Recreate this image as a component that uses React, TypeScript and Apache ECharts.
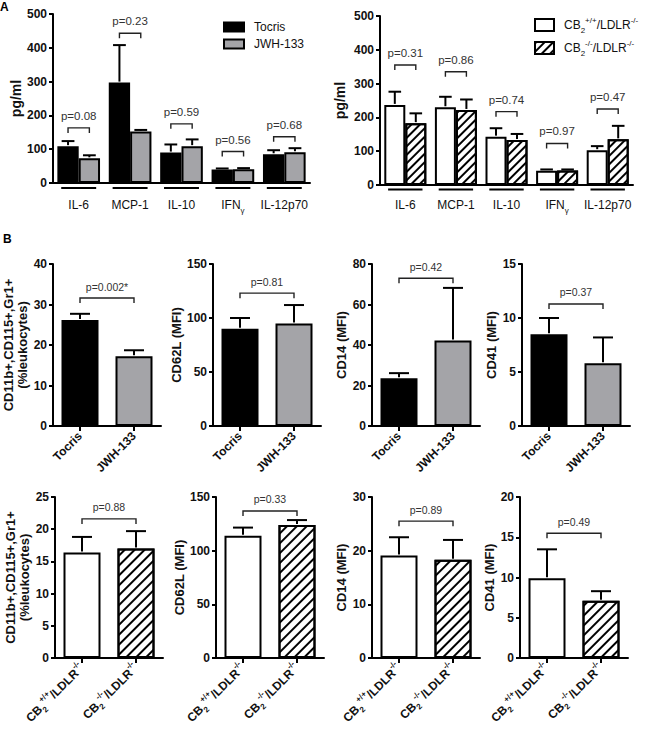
import React, { useEffect, useRef } from 'react';
import * as echarts from 'echarts';

const FONT = "'Liberation Sans', Arial, Helvetica, sans-serif";
const INK = '#111';
const P_INK = '#333';
const GREY_BAR = '#a4a4a8';

// ---- Panel A: plasma cytokines (pg/ml) ----
const cytokines = ['IL-6', 'MCP-1', 'IL-10', 'IFNγ', 'IL-12p70'];
const tocrisCyto = [109, 297, 90, 40, 85];
const tocrisCytoErr = [15, 111, 24, 3, 12];
const jwhCyto = [73, 152, 109, 41, 91];
const jwhCytoErr = [9, 5, 20, 3, 12];
const treatCytoP = ['p=0.08', 'p=0.23', 'p=0.59', 'p=0.56', 'p=0.68'];
const treatCytoBracket = [163, 443, 175, 93, 137];

const wtCyto = [237, 230, 143, 42, 103];
const wtCytoErr = [39, 31, 25, 4, 12];
const koCyto = [183, 222, 133, 43, 135];
const koCytoErr = [29, 31, 18, 3, 40];
const geneCytoP = ['p=0.31', 'p=0.86', 'p=0.74', 'p=0.97', 'p=0.47'];
const geneCytoBracket = [355, 335, 217, 123, 225];

const cytoMax = 500;
const cytoStep = 100;

// ---- Panel B: flow cytometry of blood monocytes ----
const treatments = ['Tocris', 'JWH-133'];
const genotypes = ['CB2+/+/LDLR-/-', 'CB2-/-/LDLR-/-'];
const flowLabels = ['CD11b+,CD115+,Gr1+\n(%leukocytes)', 'CD62L (MFI)', 'CD14 (MFI)', 'CD41 (MFI)'];

const treatFlowMean = [[26.2, 17.2], [90, 95], [23.6, 42.2], [8.5, 5.8]];
const treatFlowErr = [[1.5, 1.5], [10, 17], [2.5, 26], [1.5, 2.4]];
const treatFlowP = ['p=0.002*', 'p=0.81', 'p=0.42', 'p=0.37'];
const treatFlowBracket = [31.6, 123, 73, 11.3];
const treatFlowMax = [40, 150, 80, 15];
const treatFlowStep = [10, 50, 20, 5];

const geneFlowMean = [[16.4, 17.0], [114, 124], [19.1, 18.3], [9.9, 7.1]];
const geneFlowErr = [[2.4, 2.7], [7.5, 4.5], [3.4, 3.7], [3.6, 1.2]];
const geneFlowP = ['p=0.88', 'p=0.33', 'p=0.89', 'p=0.49'];
const geneFlowBracket = [21.6, 137, 25.5, 15.5];
const geneFlowMax = [25, 150, 30, 20];
const geneFlowStep = [5, 50, 10, 5];

// ---- layout ----
const cytoGrids = [
  { left: 53, top: 14, width: 257, height: 169 },
  { left: 380, top: 16, width: 253, height: 169 },
];
const flowGridLefts = [
  [53, 213, 372, 522],
  [55, 216, 372, 520],
];
const flowGridTops = [264, 497];
const flowGridHeights = [162, 161];
const FLOW_GRID_WIDTH = 108;
const FLOW_BAR_WIDTH = 37;
const CYTO_GAP = 0.17;

const solid = (color: string) => ({ color, borderColor: '#000', borderWidth: 2 });
const hatched = (thick: number, gap: number) => ({
  color: '#fff',
  borderColor: '#000',
  borderWidth: 2,
  decal: {
    symbol: 'rect',
    symbolSize: 1,
    color: '#000',
    backgroundColor: '#fff',
    dashArrayX: [1, 0],
    dashArrayY: [thick, gap],
    rotation: -Math.PI / 4,
  },
});

// CB2+/+/LDLR-/-  ->  rich text with sub/superscripts
const genotypeRichText = (name: string) => {
  const m = /^CB2(.\/.)\/LDLR(.\/.)$/.exec(name);
  if (!m) return name;
  return `{m|CB}{sub|2}{sup|${m[1]}}{m|/LDLR}{sup|${m[2]}}`;
};
const scriptRich = (size: number, weight: string) => ({
  m: { fontSize: size, fontWeight: weight, lineHeight: size + 6, fontFamily: FONT, color: INK },
  sub: { fontSize: Math.round(size * 0.68), fontWeight: weight, lineHeight: size * 0.8, verticalAlign: 'bottom', fontFamily: FONT, color: INK },
  sup: { fontSize: Math.round(size * 0.68), fontWeight: weight, lineHeight: size * 0.8, verticalAlign: 'top', fontFamily: FONT, color: INK },
});

const cytokineRichText = (name: string) =>
  name.endsWith('γ') ? `{m|${name.slice(0, -1)}}{sub|γ}` : `{m|${name}}`;

const lineEl = (x1: number, y1: number, x2: number, y2: number, width = 2, color = '#000') => ({
  type: 'line',
  shape: { x1, y1, x2, y2 },
  style: { stroke: color, lineWidth: width },
});

function errorSeries(axis: number, points: number[][], barWidthOf: (band: number) => number, side: number, capFrac: number) {
  return {
    type: 'custom',
    xAxisIndex: axis,
    yAxisIndex: axis,
    z: 5,
    silent: true,
    data: points,
    renderItem: (_params: any, api: any) => {
      const band = api.size([1, 0])[0];
      const bw = barWidthOf(band);
      const cat = api.value(0);
      const mean = api.value(1);
      const err = api.value(2);
      const base = api.coord([cat, mean]);
      const tip = api.coord([cat, mean + err]);
      const x = base[0] + (side * bw) / 2;
      const cap = bw * capFrac;
      return {
        type: 'group',
        children: [lineEl(x, base[1] - 1, x, tip[1]), lineEl(x - cap, tip[1], x + cap, tip[1])],
      };
    },
  };
}

function bracketEls(x1: number, x2: number, y: number, text: string, fontSize: number) {
  return [
    {
      type: 'polyline',
      shape: { points: [[x1, y + 5], [x1, y], [x2, y], [x2, y + 5]] },
      style: { stroke: '#222', lineWidth: 1.4, fill: 'none' },
    },
    {
      type: 'text',
      style: {
        text,
        x: (x1 + x2) / 2,
        y: y - 6,
        align: 'center',
        verticalAlign: 'bottom',
        fontSize,
        fontFamily: FONT,
        fill: P_INK,
      },
    },
  ];
}

// bracket spanning the two bars inside each cytokine group
function groupBracketSeries(axis: number, heights: number[], labels: string[]) {
  return {
    type: 'custom',
    xAxisIndex: axis,
    yAxisIndex: axis,
    z: 6,
    silent: true,
    data: heights.map((h, i) => [i, h]),
    renderItem: (params: any, api: any) => {
      const band = api.size([1, 0])[0];
      const bw = (band * (1 - CYTO_GAP)) / 2;
      const c = api.coord([api.value(0), api.value(1)]);
      return {
        type: 'group',
        children: bracketEls(c[0] - bw / 2, c[0] + bw / 2, c[1], labels[params.dataIndex], 11.5),
      };
    },
  };
}

// bracket spanning the two categories of a two-bar panel
function pairBracketSeries(axis: number, height: number, label: string) {
  return {
    type: 'custom',
    xAxisIndex: axis,
    yAxisIndex: axis,
    z: 6,
    silent: true,
    data: [[0, height]],
    renderItem: (_params: any, api: any) => {
      const a = api.coord([0, api.value(1)]);
      const b = api.coord([1, api.value(1)]);
      return { type: 'group', children: bracketEls(a[0], b[0], a[1], label, 10.5) };
    },
  };
}

// short rule under each cytokine group, below the category axis
function underlineSeries(axis: number, drop: number) {
  return {
    type: 'custom',
    xAxisIndex: axis,
    yAxisIndex: axis,
    z: 6,
    silent: true,
    data: cytokines.map((_, i) => [i, 0]),
    renderItem: (_params: any, api: any) => {
      const band = api.size([1, 0])[0];
      const c = api.coord([api.value(0), 0]);
      const half = band * 0.34;
      return lineEl(c[0] - half, c[1] + drop, c[0] + half, c[1] + drop, 2);
    },
  };
}

function valueAxis(gridIndex: number, max: number, step: number, name: string, nameGap: number, nameSize: number) {
  return {
    type: 'value',
    gridIndex,
    min: 0,
    max,
    interval: step,
    name,
    nameLocation: 'middle',
    nameRotate: 90,
    nameGap,
    nameTextStyle: { fontWeight: 'bold', fontSize: nameSize, fontFamily: FONT, color: INK, lineHeight: 14 },
    axisLine: { show: true, lineStyle: { color: '#000', width: 2 } },
    axisTick: { show: true, length: 4, lineStyle: { color: '#000', width: 2 } },
    axisLabel: { fontWeight: 'bold', fontSize: 12, fontFamily: FONT, color: INK, margin: 6 },
    splitLine: { show: false },
  };
}

function buildOption() {
  const grid: any[] = [];
  const xAxis: any[] = [];
  const yAxis: any[] = [];
  const series: any[] = [];

  const cytoPanels = [
    {
      names: treatments,
      means: [tocrisCyto, jwhCyto],
      errs: [tocrisCytoErr, jwhCytoErr],
      p: treatCytoP,
      bracket: treatCytoBracket,
      styles: [solid('#000'), solid(GREY_BAR)],
      nameGap: 28,
      labelMargin: 13,
      drop: 5,
    },
    {
      names: genotypes,
      means: [wtCyto, koCyto],
      errs: [wtCytoErr, koCytoErr],
      p: geneCytoP,
      bracket: geneCytoBracket,
      styles: [solid('#fff'), hatched(1.6, 3.6)],
      nameGap: 33,
      labelMargin: 11,
      drop: 4.5,
    },
  ];

  cytoPanels.forEach((pnl, k) => {
    const idx = grid.length;
    grid.push(cytoGrids[k]);
    xAxis.push({
      type: 'category',
      gridIndex: idx,
      data: cytokines,
      axisLine: { lineStyle: { color: '#000', width: 2 } },
      axisTick: { show: false },
      axisLabel: {
        interval: 0,
        margin: pnl.labelMargin,
        formatter: cytokineRichText,
        rich: scriptRich(12, 'normal'),
      },
    });
    yAxis.push(valueAxis(idx, cytoMax, cytoStep, 'pg/ml', pnl.nameGap, 14));
    pnl.names.forEach((nm, s) => {
      series.push({
        type: 'bar',
        name: nm,
        xAxisIndex: idx,
        yAxisIndex: idx,
        data: pnl.means[s],
        barGap: '0%',
        barCategoryGap: `${CYTO_GAP * 100}%`,
        itemStyle: pnl.styles[s],
        z: 2,
      });
    });
    pnl.names.forEach((_, s) => {
      series.push(
        errorSeries(
          idx,
          pnl.means[s].map((m, i) => [i, m, pnl.errs[s][i]]),
          (band) => (band * (1 - CYTO_GAP)) / 2,
          s === 0 ? -1 : 1,
          0.3,
        ),
      );
    });
    series.push(groupBracketSeries(idx, pnl.bracket, pnl.p));
    series.push(underlineSeries(idx, pnl.drop));
  });

  const flowRows = [
    {
      groups: treatments,
      means: treatFlowMean,
      errs: treatFlowErr,
      p: treatFlowP,
      bracket: treatFlowBracket,
      max: treatFlowMax,
      step: treatFlowStep,
      styles: [solid('#000'), solid(GREY_BAR)],
      formatter: (v: string) => `{m|${v}}`,
    },
    {
      groups: genotypes,
      means: geneFlowMean,
      errs: geneFlowErr,
      p: geneFlowP,
      bracket: geneFlowBracket,
      max: geneFlowMax,
      step: geneFlowStep,
      styles: [solid('#fff'), hatched(2, 4.6)],
      formatter: genotypeRichText,
    },
  ];

  flowRows.forEach((row, r) => {
    flowLabels.forEach((label, c) => {
      const idx = grid.length;
      grid.push({
        left: flowGridLefts[r][c],
        top: flowGridTops[r],
        width: FLOW_GRID_WIDTH,
        height: flowGridHeights[r],
      });
      xAxis.push({
        type: 'category',
        gridIndex: idx,
        data: row.groups,
        axisLine: { lineStyle: { color: '#000', width: 2 } },
        axisTick: { show: true, alignWithLabel: true, length: 5, lineStyle: { color: '#000', width: 2 } },
        axisLabel: {
          interval: 0,
          rotate: 45,
          margin: 8,
          formatter: row.formatter,
          rich: scriptRich(12, 'bold'),
        },
      });
      const gap = label.includes('\n') ? 21 : 24;
      yAxis.push(valueAxis(idx, row.max[c], row.step[c], label, gap, 13));
      series.push({
        type: 'bar',
        name: `${label.split('\n')[0]} ${r}`,
        xAxisIndex: idx,
        yAxisIndex: idx,
        barWidth: FLOW_BAR_WIDTH,
        z: 2,
        data: row.means[c].map((v, i) => ({ value: v, itemStyle: row.styles[i] })),
      });
      series.push(
        errorSeries(
          idx,
          row.means[c].map((m, i) => [i, m, row.errs[c][i]]),
          () => FLOW_BAR_WIDTH,
          0,
          0.27,
        ),
      );
      series.push(pairBracketSeries(idx, row.bracket[c], row.p[c]));
    });
  });

  return {
    animation: false,
    backgroundColor: '#fff',
    textStyle: { fontFamily: FONT },
    grid,
    xAxis,
    yAxis,
    series,
    legend: [
      {
        data: treatments,
        orient: 'vertical',
        left: 218,
        top: 16,
        icon: 'rect',
        itemWidth: 20,
        itemHeight: 9,
        itemGap: 5,
        selectedMode: false,
        textStyle: { fontSize: 12, fontFamily: FONT, color: INK, padding: [0, 0, 0, 5] },
      },
      {
        data: genotypes,
        orient: 'vertical',
        left: 529,
        top: 11,
        icon: 'rect',
        itemWidth: 19,
        itemHeight: 12,
        itemGap: 5,
        selectedMode: false,
        formatter: genotypeRichText,
        textStyle: { padding: [0, 0, 0, 5], rich: scriptRich(12, 'normal') },
      },
    ],
    graphic: [
      { type: 'text', left: 0, top: 1, style: { text: 'A', font: `bold 12px ${FONT}`, fill: '#000' } },
      { type: 'text', left: 3, top: 233, style: { text: 'B', font: `bold 12px ${FONT}`, fill: '#000' } },
    ],
  };
}

export default function App() {
  const ref = useRef<HTMLDivElement>(null);
  useEffect(() => {
    if (!ref.current) return;
    const chart = echarts.init(ref.current, undefined, { renderer: 'svg' });
    chart.setOption(buildOption() as any);
    return () => chart.dispose();
  }, []);
  return (
    <div
      ref={ref}
      style={{ position: 'absolute', left: 0, top: 0, width: 650, height: 740, background: '#fff' }}
    />
  );
}
